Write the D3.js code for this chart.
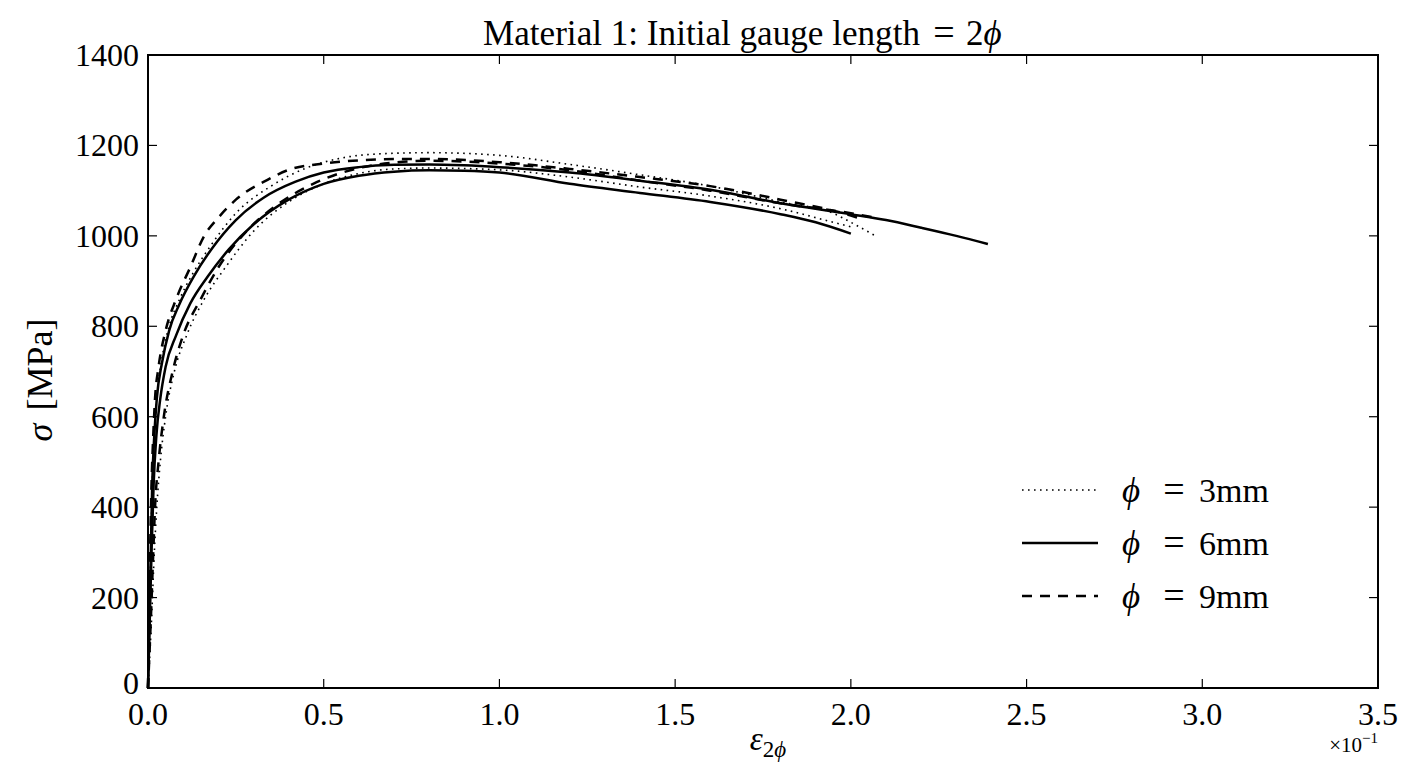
<!DOCTYPE html>
<html><head><meta charset="utf-8">
<script src="https://cdn.jsdelivr.net/npm/d3@7"></script>
<style>body{margin:0;background:#fff}svg text{font-family:"Liberation Serif","DejaVu Serif",serif;fill:#000}</style>
</head><body><svg id="c" width="1418" height="772"></svg>
<script>
// strain values in units of 1e-1, stress in MPa
const d3mmA_x = [0,0.004,0.008,0.012,0.018,0.025,0.04,0.06,0.09,0.13,0.18,0.25,0.35,0.45,0.55,0.65,0.8,1.0,1.2,1.4,1.6,1.8,1.95,2.0,2.07];
const d3mmA_y = [0,150,300,450,560,640,730,800,860,920,980,1050,1110,1150,1172,1181,1184,1178,1158,1135,1110,1075,1050,1030,1000];
const d3mmB_x = [0,0.01,0.018,0.025,0.035,0.05,0.075,0.11,0.16,0.22,0.3,0.4,0.5,0.6,0.7,0.8,1.0,1.2,1.4,1.6,1.8,1.95,2.0];
const d3mmB_y = [0,150,300,400,500,600,700,780,860,930,1010,1075,1115,1138,1148,1150,1146,1130,1108,1088,1060,1030,1020];
const d6mmA_x = [0,0.004,0.008,0.012,0.018,0.025,0.04,0.06,0.09,0.13,0.18,0.25,0.33,0.42,0.5,0.6,0.7,0.8,0.9,1.0,1.2,1.4,1.6,1.8,2.0,2.1,2.2,2.3,2.39];
const d6mmA_y = [0,150,300,450,560,640,720,790,850,910,970,1035,1085,1120,1140,1152,1157,1158,1156,1152,1140,1122,1102,1072,1048,1035,1018,1000,982];
const d6mmB_x = [0,0.005,0.01,0.016,0.024,0.035,0.05,0.08,0.12,0.17,0.23,0.3,0.4,0.5,0.6,0.7,0.8,0.9,1.0,1.2,1.4,1.6,1.8,1.9,2.0];
const d6mmB_y = [0,150,300,450,560,640,710,780,850,910,970,1025,1080,1115,1133,1142,1145,1144,1140,1115,1095,1075,1048,1030,1005];
const d9mmA_x = [0,0.003,0.006,0.01,0.015,0.02,0.03,0.05,0.08,0.12,0.16,0.2,0.25,0.34,0.4,0.5,0.6,0.7,0.8,1.0,1.2,1.4,1.6,1.8,2.0,2.02];
const d9mmA_y = [0,150,300,450,560,640,710,790,860,930,1000,1040,1080,1124,1146,1160,1167,1170,1170,1163,1148,1130,1110,1080,1045,1040];
const d9mmB_x = [0,0.008,0.015,0.02,0.03,0.045,0.07,0.1,0.15,0.2,0.28,0.37,0.47,0.6,0.7,0.8,1.0,1.2,1.4,1.6,1.8,2.0,2.07];
const d9mmB_y = [0,150,300,400,500,600,700,780,860,930,1010,1070,1115,1150,1162,1166,1160,1145,1122,1100,1072,1050,1040];

const xTicks = [0,0.5,1.0,1.5,2.0,2.5,3.0,3.5];
const yTicks = [0,200,400,600,800,1000,1200,1400];
const legendLabels = ["3mm","6mm","9mm"];

const styles = {dotted:{w:1.6,dash:"1.6,4.4"}, solid:{w:2.5,dash:null}, dashed:{w:2.5,dash:"10,8"}};
const series = [
  {x:d3mmA_x,y:d3mmA_y,s:"dotted"},{x:d3mmB_x,y:d3mmB_y,s:"dotted"},
  {x:d6mmA_x,y:d6mmA_y,s:"solid"},{x:d6mmB_x,y:d6mmB_y,s:"solid"},
  {x:d9mmA_x,y:d9mmA_y,s:"dashed"},{x:d9mmB_x,y:d9mmB_y,s:"dashed"}
];

const L=148,R=1378,T=55,B=688;
const svg=d3.select("#c");
const x=d3.scaleLinear().domain([0,3.5]).range([L,R]);
const y=d3.scaleLinear().domain([0,1400]).range([B,T]);

const g=svg.append("g");
const line=d3.line().x(d=>x(d[0])).y(d=>y(d[1])).curve(d3.curveMonotoneX);
series.forEach(sr=>{
  const pts=sr.x.map((v,i)=>[v,sr.y[i]]);
  const st=styles[sr.s];
  g.append("path").attr("d",line(pts)).attr("fill","none").attr("stroke","#000")
   .attr("stroke-width",st.w).attr("stroke-dasharray",st.dash);
});

// ticks inward on all sides
const tl=9;
xTicks.forEach(t=>{
  svg.append("line").attr("x1",x(t)).attr("x2",x(t)).attr("y1",B).attr("y2",B-tl).attr("stroke","#000").attr("stroke-width",1.2);
  svg.append("line").attr("x1",x(t)).attr("x2",x(t)).attr("y1",T).attr("y2",T+tl).attr("stroke","#000").attr("stroke-width",1.2);
  svg.append("text").attr("x",x(t)).attr("y",725).attr("text-anchor","middle").attr("font-size",32).text(t.toFixed(1));
});
yTicks.forEach(t=>{
  svg.append("line").attr("x1",L).attr("x2",L+tl).attr("y1",y(t)).attr("y2",y(t)).attr("stroke","#000").attr("stroke-width",1.2);
  svg.append("line").attr("x1",R).attr("x2",R-tl).attr("y1",y(t)).attr("y2",y(t)).attr("stroke","#000").attr("stroke-width",1.2);
  svg.append("text").attr("x",139).attr("y",y(t)+(t===0?6:11)).attr("text-anchor","end").attr("font-size",32).text(t);
});
svg.append("rect").attr("x",L).attr("y",T).attr("width",R-L).attr("height",B-T).attr("fill","none").attr("stroke","#000").attr("stroke-width",2);

// title
svg.append("text").attr("x",483).attr("y",45).attr("font-size",35).attr("textLength",437).attr("lengthAdjust","spacingAndGlyphs").text("Material 1: Initial gauge length");
svg.append("text").attr("x",944).attr("y",45).attr("text-anchor","middle").attr("font-size",38).text("=");
const t2=svg.append("text").attr("x",966).attr("y",45).attr("font-size",35);
t2.append("tspan").text("2");
t2.append("tspan").attr("font-style","italic").text("ϕ");

// axis labels
const xl=svg.append("text").attr("x",768).attr("y",750).attr("text-anchor","middle").attr("font-size",33);
xl.append("tspan").attr("font-style","italic").text("ε");
xl.append("tspan").attr("font-size",23).attr("dy",7).text("2");
xl.append("tspan").attr("font-size",23).attr("font-style","italic").text("ϕ");
const yl=svg.append("text").attr("transform","translate(52,380) rotate(-90)").attr("text-anchor","middle").attr("font-size",36).attr("word-spacing",4);
yl.append("tspan").attr("font-style","italic").text("σ");
yl.append("tspan").text(" [MPa]");

const ex=svg.append("text").attr("x",1378).attr("y",752).attr("text-anchor","end").attr("font-size",21);
ex.append("tspan").text("×10");
ex.append("tspan").attr("font-size",15).attr("dy",-9).text("−1");

// legend
legendLabels.forEach((lab,i)=>{
  const st=styles[["dotted","solid","dashed"][i]];
  const ly=490+i*53;
  svg.append("line").attr("x1",1022).attr("x2",1098).attr("y1",ly).attr("y2",ly).attr("stroke","#000")
    .attr("stroke-width",st.w).attr("stroke-dasharray",st.dash);
  svg.append("text").attr("x",1122).attr("y",ly+12).attr("font-size",35).attr("font-style","italic").text("ϕ");
  svg.append("text").attr("x",1174).attr("y",ly+12).attr("font-size",38).attr("text-anchor","middle").text("=");
  svg.append("text").attr("x",1199).attr("y",ly+12).attr("font-size",34).text(lab);
});
</script></body></html>
